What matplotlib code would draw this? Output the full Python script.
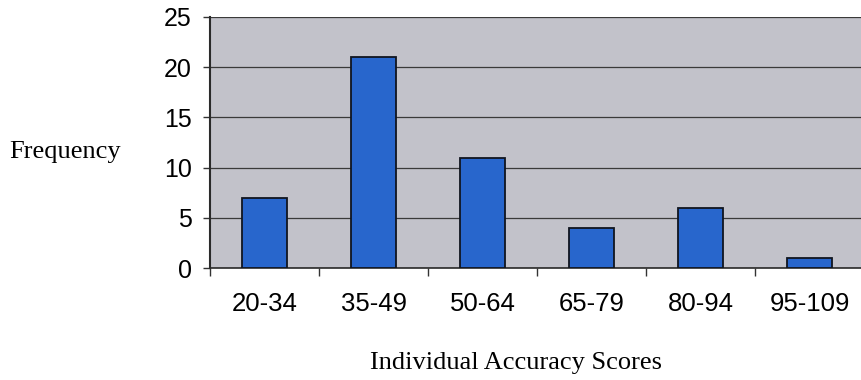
import matplotlib.pyplot as plt
import numpy as np

# score bins and how many subjects fell in each
bins = ['20-34', '35-49', '50-64', '65-79', '80-94', '95-109']
freq = [7, 21, 11, 4, 6, 1]
y_ticks = [0, 5, 10, 15, 20, 25]

fig = plt.figure(figsize=(8.61, 3.80), dpi=100)
ax = fig.add_axes([0.2439, 0.2947, 0.7596, 0.6606])

x = np.arange(len(bins))
ax.set_facecolor('#c2c2ca')
ax.bar(x, freq, width=0.42, color='#2866cc', edgecolor='#10151f',
       linewidth=1.3, zorder=3)

ax.set_xlim(-0.5, len(bins) - 0.5)
ax.set_ylim(0, 25)
ax.set_yticks(y_ticks)
ax.tick_params(axis='y', labelsize=18, length=5, width=1, color='#333333',
               pad=8)
for lab in ax.get_yticklabels():
    lab.set_family('Liberation Sans')
ax.yaxis.grid(True, color='#3a3a3a', linewidth=0.9, zorder=1)

# category labels sit between boundary ticks
ax.set_xticks(x)
ax.set_xticklabels(bins, family='Liberation Sans', fontsize=18.5)
ax.tick_params(axis='x', which='major', length=0, pad=17)
ax.set_xticks(np.arange(len(bins) + 1) - 0.5, minor=True)
ax.tick_params(axis='x', which='minor', length=6, width=1, color='#333333')

for side in ['top', 'right']:
    ax.spines[side].set_visible(False)
ax.spines['left'].set_color('#2a2a2a')
ax.spines['left'].set_linewidth(1.5)
ax.spines['bottom'].set_color('#2a2a2a')
ax.spines['bottom'].set_linewidth(1.2)

fig.text(0.075, 0.60, 'Frequency', family='Liberation Serif', fontsize=19,
         ha='center', va='center')
fig.text(0.599, 0.045, 'Individual Accuracy Scores', family='Liberation Serif',
         fontsize=19, ha='center', va='center')

fig.savefig('out.png', dpi=100)
